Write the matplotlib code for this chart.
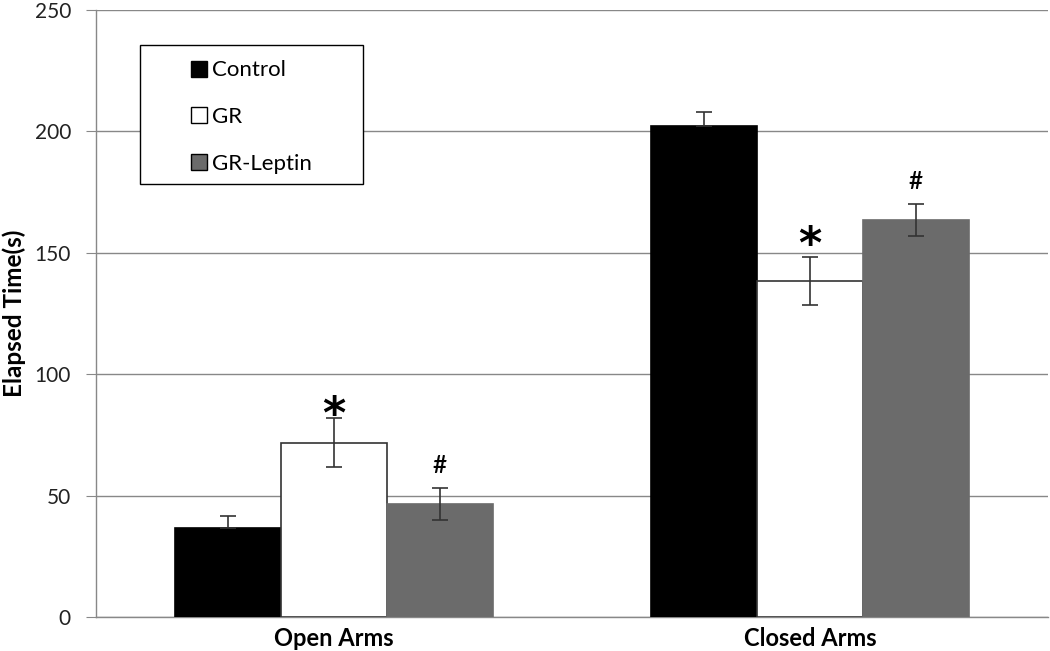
import matplotlib
matplotlib.use("Agg")
import matplotlib.pyplot as plt
from matplotlib.lines import Line2D
from matplotlib.patches import Rectangle
import numpy as np

plt.rcParams['font.family'] = ['Lato', 'DejaVu Sans']

categories = ["Open Arms", "Closed Arms"]
series = ["Control", "GR", "GR-Leptin"]
control = [36.5, 202.4]
gr = [71.8, 138.4]
gr_leptin = [46.7, 163.6]
control_err = [5.0, 5.6]
gr_err = [10.0, 10.0]
gr_leptin_err = [6.6, 6.6]
star_y = [87.3, 157.3]   # centre of "*" marks over GR bars
hash_y = [61.4, 178.7]   # centre of "#" marks over GR-Leptin bars
yticks = [0, 50, 100, 150, 200, 250]

values = [control, gr, gr_leptin]
errors = [control_err, gr_err, gr_leptin_err]
facecolors = ["#000000", "#ffffff", "#6b6b6b"]
edgecolors = ["#000000", "#333333", "#6b6b6b"]

fig = plt.figure(figsize=(10.5, 6.51), dpi=100)
ax = fig.add_axes([0.0914, 0.0522, 0.9066, 0.9324])

x = np.arange(len(categories))
w = 0.2227
for i, (vals, errs) in enumerate(zip(values, errors)):
    pos = x + (i - 1) * w
    ax.bar(pos, vals, width=w, color=facecolors[i], edgecolor=edgecolors[i],
           linewidth=1.2, zorder=3)
    if i == 0:
        yerr = [np.zeros(len(errs)), errs]  # lower half hidden inside black bar
    else:
        yerr = errs
    ax.errorbar(pos, vals, yerr=yerr, fmt='none', ecolor="#333333",
                elinewidth=1.2, capsize=6, capthick=1.2, zorder=4)

for p, sy in zip(x, star_y):
    ax.annotate("*", xy=(p, sy), xytext=(0, -23), textcoords='offset points',
                ha='center', va='bottom', fontsize=32, fontweight='bold',
                family='DejaVu Sans', zorder=5)
for p, hy in zip(x + w, hash_y):
    ax.annotate("#", xy=(p, hy), xytext=(0, 1.5), textcoords='offset points',
                ha='center', va='center', fontsize=17.5, fontweight='semibold', zorder=5)

ax.set_xlim(-0.5, 1.5)
ax.set_ylim(0, 250)
ax.set_yticks(yticks)
ax.set_xticks(x)
ax.set_xticklabels(categories, fontsize=17, fontweight='bold')
ax.tick_params(axis='x', length=0, pad=7)
ax.tick_params(axis='y', length=7, color="#888888", labelsize=15, labelcolor="#222222", pad=11)
ax.yaxis.grid(True, color="#888888", linewidth=1.0, zorder=0)
ax.set_axisbelow(True)
for s in ["top", "right"]:
    ax.spines[s].set_visible(False)
ax.spines["left"].set_color("#888888")
ax.spines["bottom"].set_color("#888888")
ax.spines["left"].set_linewidth(1.0)
ax.spines["bottom"].set_linewidth(1.0)
ax.set_ylabel("Elapsed Time(s)", fontsize=17.5, fontweight='bold', labelpad=6)

# legend frame
box = Rectangle((0.046, 0.713), 0.234, 0.230, transform=ax.transAxes,
                facecolor='white', edgecolor='black', linewidth=1.0, zorder=6)
ax.add_patch(box)
handles = [Line2D([], [], linestyle='none', marker='s', markersize=11.5,
                  markerfacecolor=fc, markeredgecolor='black', markeredgewidth=1.0)
           for fc in ["#000000", "#ffffff", "#6b6b6b"]]
leg = ax.legend(handles, series, loc='upper left', bbox_to_anchor=(0.101, 0.917),
                frameon=False, fontsize=16, handlelength=0.6, handletextpad=0.3,
                labelspacing=1.2, borderaxespad=0, borderpad=0)
leg.set_zorder(7)

fig.savefig("out.png", dpi=100)
